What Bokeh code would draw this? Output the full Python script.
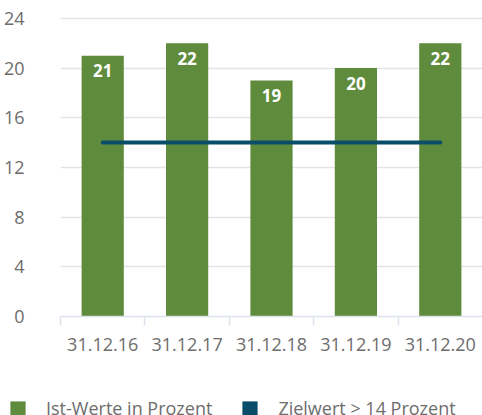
from bokeh.plotting import figure
from bokeh.layouts import column
from bokeh.models import (ColumnDataSource, FixedTicker, LinearAxis, CategoricalAxis,
                          Legend, LegendItem, FactorRange, Range1d)
from bokeh.core.properties import value
from bokeh.embed import file_html
from bokeh.resources import INLINE

categories = ["31.12.16", "31.12.17", "31.12.18", "31.12.19", "31.12.20"]
ist_werte = [21, 22, 19, 20, 22]
zielwert = [14, 14, 14, 14, 14]
y_ticks = [0, 4, 8, 12, 16, 20, 24]
legend_labels = ["Ist-Werte in Prozent", "Zielwert > 14 Prozent"]

GREEN = "#5f8b3c"
TEAL = "#0a4d68"
GREY = "#6d6d6d"
AXIS = "#dbe2ec"
GRID = "#e4e4e4"
FONT = "Open Sans"

src = ColumnDataSource(dict(cat=categories, ist=ist_werte, ziel=zielwert,
                            lbl=[str(v) for v in ist_werte]))

p = figure(x_range=FactorRange(factors=categories), y_range=Range1d(0, 24.15),
           width=482, height=395, output_backend="svg", toolbar_location=None,
           x_axis_location=None, min_border_left=60, min_border_right=0,
           min_border_top=16, min_border_bottom=79, outline_line_color=None,
           background_fill_color="white", border_fill_color="white",
           frame_align=False)

p.xgrid.visible = False
p.ygrid.ticker = FixedTicker(ticks=y_ticks[1:])
p.ygrid.grid_line_color = GRID
p.ygrid.grid_line_width = 1.5

ya = p.yaxis[0]
ya.ticker = FixedTicker(ticks=y_ticks)
ya.axis_line_color = None
ya.major_tick_line_color = None
ya.minor_tick_line_color = None
ya.major_label_standoff = 30
ya.major_label_text_font = FONT
ya.major_label_text_font_size = "18px"
ya.major_label_text_color = GREY

bars = p.vbar(x="cat", top="ist", width=0.5, source=src, fill_color=GREEN, line_color=None)
p.line(x="cat", y="ziel", source=src, line_color=TEAL, line_width=4, line_cap="round")
p.text(x="cat", y="ist", text="lbl", source=src, text_color="white",
       text_font=value(FONT), text_font_style="bold", text_font_size="17px",
       text_align="center", text_baseline="middle", y_offset=15)

tick_axis = LinearAxis(ticker=FixedTicker(ticks=list(range(len(categories)))),
                       axis_line_color=AXIS, axis_line_width=1.5,
                       major_tick_line_color=AXIS, major_tick_line_width=1.5,
                       major_tick_in=0, major_tick_out=9, minor_tick_line_color=None,
                       major_label_text_font_size="1px", major_label_text_color=None,
                       major_label_standoff=0)
cat_axis = CategoricalAxis(axis_line_color=None, major_tick_line_color=None,
                           minor_tick_line_color=None, major_tick_in=0, major_tick_out=0,
                           major_label_standoff=12, major_label_text_font=FONT,
                           major_label_text_font_size="18px", major_label_text_color=GREY)
p.add_layout(tick_axis, "below")
p.add_layout(cat_axis, "below")

# legend strip below the chart (its swatch glyphs sit outside the strip's visible range)
lg = figure(width=482, height=20, output_backend="svg", toolbar_location=None,
            x_range=Range1d(0, 1), y_range=Range1d(0, 1),
            x_axis_location=None, y_axis_location=None,
            min_border_left=0, min_border_right=0, min_border_top=0, min_border_bottom=0,
            outline_line_color=None, background_fill_color="white", border_fill_color="white",
            frame_align=False)
lg.xgrid.visible = False
lg.ygrid.visible = False
leg_ist = lg.vbar(x=[-10], top=[-5], bottom=[-6], width=0.5, fill_color=GREEN, line_color=None)
leg_ziel = lg.vbar(x=[-10], top=[-5], bottom=[-6], width=0.5, fill_color=TEAL, line_color=None)

legend = Legend(items=[LegendItem(label=legend_labels[0], renderers=[leg_ist]),
                       LegendItem(label=legend_labels[1], renderers=[leg_ziel])],
                orientation="horizontal", location=(8, -5),
                glyph_width=19, glyph_height=19, label_standoff=19, spacing=28,
                padding=0, margin=0, border_line_color=None, background_fill_alpha=0,
                label_text_font=FONT, label_text_font_size="18px", label_text_color=GREY)
lg.add_layout(legend, "center")

layout = column(p, lg, spacing=0)
open("out.html", "w").write(file_html(layout, INLINE))
